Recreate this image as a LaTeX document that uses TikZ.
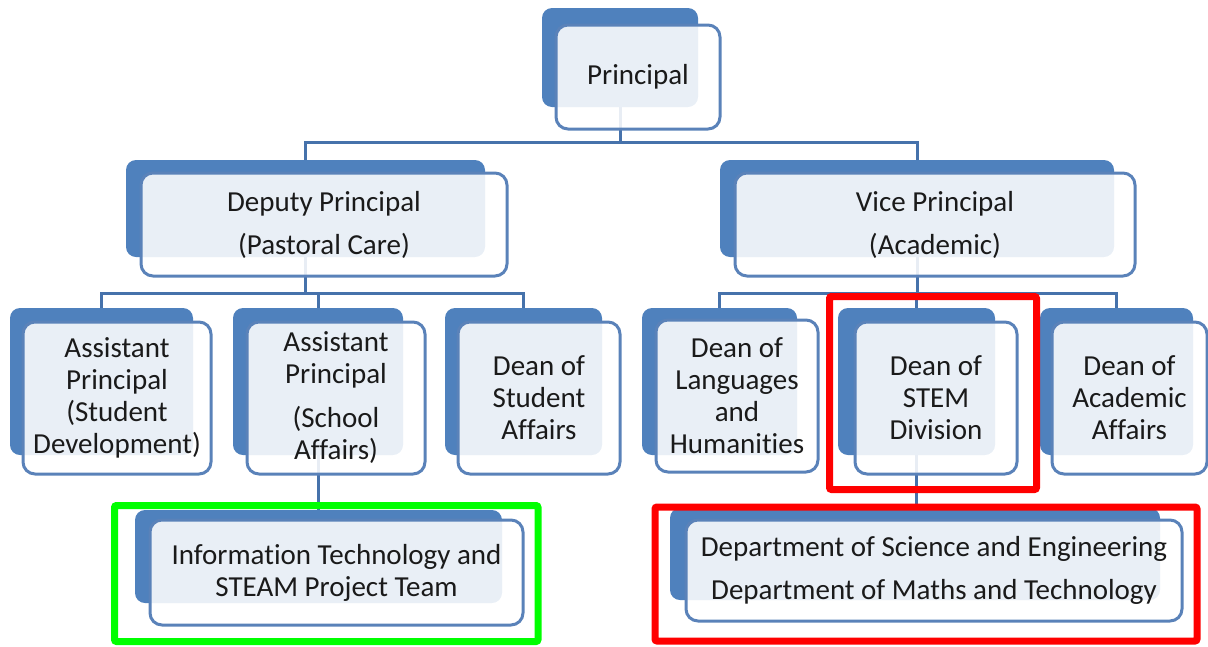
\documentclass[tikz,border=0pt]{standalone}
\usepackage{fontspec}
\setmainfont{Carlito}[Ligatures={NoCommon}]
\definecolor{boxblue}{HTML}{4F81BD}
\definecolor{edgeblue}{HTML}{5A82B9}
\definecolor{lineblue}{HTML}{4672AB}
\definecolor{ink}{HTML}{1A1A1A}
\definecolor{hired}{HTML}{FF0000}
\definecolor{higreen}{HTML}{00FF00}
\pgfdeclarelayer{background}
\pgfsetlayers{background,main}
\begin{document}
\begin{tikzpicture}[x=1pt,y=-1pt,
  backbox/.style={draw=none, fill=boxblue, rounded corners=10pt, inner sep=0pt},
  frontbox/.style={draw=edgeblue, line width=3pt, fill=white, fill opacity=0.88,
    text opacity=1, rounded corners=12pt, inner sep=0pt, align=center, text=ink,
    font=\fontsize{29}{32}\selectfont},
  link/.style={draw=lineblue, line width=3pt},
  hilite/.style={draw=#1, line width=7pt, rounded corners=2pt}]

\useasboundingbox (0,0) rectangle (1208,646);

% ---- level 1
\node[backbox, minimum width=156pt, minimum height=99pt] (p-b) at (620,57.5) {};
\node[frontbox, minimum width=164pt, minimum height=104pt] (p) at (638,77) {Principal};

% ---- level 2
\node[backbox, minimum width=359pt, minimum height=97pt] (dp-b) at (305.5,208.5) {};
\node[frontbox, minimum width=366pt, minimum height=103pt] (dp) at (324,224.5)
  {Deputy Principal\\[11pt](Pastoral Care)};
\node[backbox, minimum width=394pt, minimum height=97pt] (vp-b) at (917,208.5) {};
\node[frontbox, minimum width=400pt, minimum height=103pt] (vp) at (935,224.5)
  {Vice Principal\\[11pt](Academic)};

% ---- level 3
\node[backbox, minimum width=183pt, minimum height=147pt] (apsd-b) at (101.5,381.5) {};
\node[frontbox, minimum width=188pt, minimum height=152pt] (apsd) at (117,398)
  {Assistant\\Principal\\(Student\\Development)};
\node[backbox, minimum width=170pt, minimum height=147pt] (apsa-b) at (318,381.5) {};
\node[frontbox, minimum width=178pt, minimum height=152pt] (apsa) at (336,398)
  {Assistant\\Principal\\[12pt](School\\Affairs)};
\node[backbox, minimum width=157pt, minimum height=147pt] (dsa-b) at (523.5,381.5) {};
\node[frontbox, minimum width=162pt, minimum height=152pt] (dsa) at (539,398)
  {Dean of\\Student\\Affairs};
\node[backbox, minimum width=155pt, minimum height=147pt] (dlh-b) at (719.5,381.5) {};
\node[frontbox, minimum width=162pt, minimum height=152pt] (dlh) at (737,396)
  {Dean of\\Languages\\and\\Humanities};
\node[backbox, minimum width=157pt, minimum height=147pt] (stem-b) at (916.5,381.5) {};
\node[frontbox, minimum width=162pt, minimum height=152pt] (stem) at (936,398)
  {Dean of\\STEM\\Division};
\node[backbox, minimum width=153pt, minimum height=147pt] (daa-b) at (1116.5,381.5) {};
\node[frontbox, minimum width=155pt, minimum height=152pt] (daa) at (1129.5,398)
  {Dean of\\Academic\\Affairs};

% ---- level 4
\node[backbox, minimum width=367pt, minimum height=93pt] (it-b) at (318.5,556.5) {};
\node[frontbox, minimum width=373pt, minimum height=105pt] (it) at (336.5,572.5)
  {Information Technology and\\STEAM Project Team};
\node[backbox, minimum width=490pt, minimum height=92pt] (dept-b) at (915,554) {};
\node[frontbox, minimum width=496pt, minimum height=101pt] (dept) at (934,570.5)
  {Department of Science and Engineering\\[11pt]Department of Maths and Technology};

% ---- connectors, behind the boxes
\begin{pgfonlayer}{background}
  \coordinate (busA) at (0,142);
  \coordinate (busB) at (0,293);
  \draw[link] (p-b.south) -- (p-b.south |- busA) -| (dp-b.north);
  \draw[link] (p-b.south |- busA) -| (vp-b.north);
  \draw[link] (dp-b.south) -- (dp-b.south |- busB) -| (apsd-b.north);
  \draw[link] (dp-b.south |- busB) -| (apsa-b.north);
  \draw[link] (dp-b.south |- busB) -| (dsa-b.north);
  \draw[link] (vp-b.south) -- (vp-b.south |- busB) -| (dlh-b.north);
  \draw[link] (vp-b.south |- busB) -| (stem-b.north);
  \draw[link] (vp-b.south |- busB) -| (daa-b.north);
  \draw[link] (apsa-b.south) -- (apsa-b.south |- it-b.north);
  \draw[link] (stem-b.south) -- (stem-b.south |- dept-b.north);
\end{pgfonlayer}

% ---- highlight frames
\draw[hilite=higreen] (114.5,505.5) rectangle (538,641.5);
\draw[hilite=hired] (829.5,296.5) rectangle (1036.5,489.5);
\draw[hilite=hired] (655,507) rectangle (1197,641);
\end{tikzpicture}
\end{document}
